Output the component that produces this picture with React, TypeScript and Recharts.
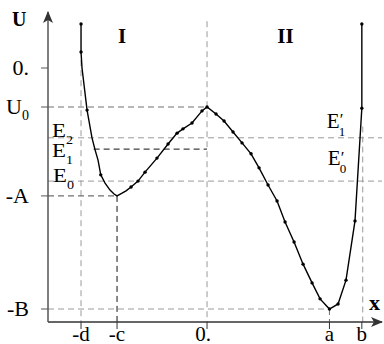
import React from "react";
import {
  ComposedChart,
  XAxis,
  YAxis,
  Line,
  Scatter,
  ReferenceLine,
  ReferenceDot,
} from "recharts";

// axis ranges (x in units of c, y in units of |U0|)
const xMin = -1.767;
const xMax = 1.944;
const yMin = -6.513;
const yMax = 1.436;

const xTicks = [-1.4, -1.0, 0, 1.36, 1.72];
const xTickLabels = ["-d", "-c", "0.", "a", "b"];
const yTicks = [-6.18, -3.28, -1.0, 0];
const yTickLabels = ["-B", "-A", "U_0", "0."];

const U0 = -1.0;
const A = -3.28;
const B = -6.18;
const E0 = -2.9;
const E1 = -2.08;
const E2 = -1.79;
const E1left = -1.26;

// points carrying a marker in the picture
const sampled = [
  { x: -1.4, y: 1.13 },
  { x: -1.4, y: 0.41 },
  { x: -1.333, y: -1.08 },
  { x: -1.181, y: -2.74 },
  { x: -0.844, y: -3.05 },
  { x: -0.767, y: -2.9 },
  { x: -0.689, y: -2.67 },
  { x: -0.556, y: -2.31 },
  { x: -0.433, y: -1.95 },
  { x: -0.333, y: -1.67 },
  { x: -0.267, y: -1.56 },
  { x: -0.167, y: -1.41 },
  { x: -0.056, y: -1.1 },
  { x: 0, y: -1.0 },
  { x: 0.1, y: -1.18 },
  { x: 0.189, y: -1.36 },
  { x: 0.289, y: -1.64 },
  { x: 0.389, y: -1.92 },
  { x: 0.489, y: -2.2 },
  { x: 0.578, y: -2.56 },
  { x: 0.678, y: -3.0 },
  { x: 0.778, y: -3.41 },
  { x: 0.867, y: -3.95 },
  { x: 0.967, y: -4.46 },
  { x: 1.067, y: -5.03 },
  { x: 1.167, y: -5.51 },
  { x: 1.256, y: -5.92 },
  { x: 1.36, y: -6.18 },
  { x: 1.456, y: -6.05 },
  { x: 1.544, y: -5.44 },
  { x: 1.644, y: -3.92 },
  { x: 1.72, y: -1.03 },
  { x: 1.72, y: 1.13 },
];

// extra points
const traced = [
  { x: -1.389, y: 0 },
  { x: -1.278, y: -1.79 },
  { x: -1.244, y: -2.1 },
  { x: -1.211, y: -2.36 },
  { x: -1.133, y: -2.95 },
  { x: -1.078, y: -3.13 },
  { x: -1.033, y: -3.23 },
  { x: -1.0, y: -3.28 },
  { x: -0.944, y: -3.21 },
  { x: -0.9, y: -3.15 },
];

const curve = [...sampled, ...traced].sort((p, q) => p.x - q.x);

const serif = "'Liberation Serif', 'DejaVu Serif', 'Times New Roman', serif";
const light = "#9a9a9a";
const mid = "#707070";
const dark = "#111";

const XTick = ({ x, y, payload }: any) => {
  const i = xTicks.indexOf(payload.value);
  const label = xTickLabels[i];
  return (
    <text
      x={x + (label === "0." ? -4 : 0)}
      y={y + 10}
      textAnchor="middle"
      style={{ fontFamily: serif, fontSize: 21 }}
      fill="#000"
    >
      {label}
    </text>
  );
};

const YTick = ({ x, y, payload }: any) => {
  const i = yTicks.indexOf(payload.value);
  const [main, sub] = (yTickLabels[i] || "").split("_");
  return (
    <text
      x={x - 10}
      y={y + 7}
      textAnchor="end"
      style={{ fontFamily: serif, fontSize: 22 }}
      fill="#000"
    >
      {main}
      {sub && (
        <tspan dy={6} style={{ fontSize: 14 }}>
          {sub}
        </tspan>
      )}
    </text>
  );
};

// symbol with optional prime and subscript, as one text element
const Sym = ({ x, y, main, sub, prime, size = 19, sx = 1, bold = false, anchor = "start" }: any) => (
  <g transform={`translate(${x},${y}) scale(${sx},1)`}>
    <text
      x={0}
      y={0}
      textAnchor={anchor}
      fill="#000"
      style={{ fontFamily: serif, fontSize: size, fontWeight: bold ? 700 : 400 }}
    >
      {main}
      {prime && (
        <tspan dy={-size * 0.12} style={{ fontSize: size * 0.8 }}>
          ′
        </tspan>
      )}
      {sub && (
        <tspan
          dx={prime ? -size * 0.22 : 0}
          dy={prime ? size * 0.5 : size * 0.38}
          style={{ fontSize: size * 0.62 }}
        >
          {sub}
        </tspan>
      )}
    </text>
  </g>
);

const tag =
  (dx: number, dy: number, props: any) =>
  ({ viewBox }: any) =>
    <Sym x={viewBox.x + dx} y={viewBox.y + dy} {...props} />;

const dash = "6 4";

const PotentialChart: React.FC = () => {
  return (
    <div style={{ position: "absolute", left: 0, top: 0 }}>
      <ComposedChart
        width={384}
        height={344}
        margin={{ top: 12, right: 2, bottom: 0, left: 0 }}
      >
        <defs>
          <marker
            id="arrow"
            viewBox="0 0 12 10"
            refX={11}
            refY={5}
            markerWidth={12}
            markerHeight={10}
            markerUnits="userSpaceOnUse"
            orient="auto-start-reverse"
          >
            <path d="M0,0 L12,5 L0,10 L3,5 z" fill="#333" />
          </marker>
        </defs>
        <XAxis
          type="number"
          dataKey="x"
          domain={[xMin, xMax]}
          ticks={xTicks}
          interval={0}
          allowDataOverflow
          height={22}
          tickSize={7}
          tickLine={{ stroke: "#333" }}
          axisLine={{ stroke: "#333", strokeWidth: 1.5, markerEnd: "url(#arrow)" }}
          tick={(p: any) => <XTick {...p} />}
        />
        <YAxis
          type="number"
          dataKey="y"
          domain={[yMin, yMax]}
          ticks={yTicks}
          interval={0}
          allowDataOverflow
          width={48}
          tickSize={7}
          tickLine={{ stroke: "#555" }}
          axisLine={{ stroke: "#555", strokeWidth: 1.5, markerStart: "url(#arrow)" }}
          tick={(p: any) => <YTick {...p} />}
        />

        {/* vertical guides */}
        <ReferenceLine segment={[{ x: -1.4, y: 0.2 }, { x: -1.4, y: yMin }]} stroke={light} strokeDasharray={dash} ifOverflow="visible" />
        <ReferenceLine segment={[{ x: -1.0, y: A }, { x: -1.0, y: yMin }]} stroke={dark} strokeDasharray={dash} ifOverflow="visible" />
        <ReferenceLine segment={[{ x: 0, y: 1.2 }, { x: 0, y: yMin }]} stroke={light} strokeDasharray={dash} ifOverflow="visible" />
        <ReferenceLine segment={[{ x: 1.36, y: B }, { x: 1.36, y: yMin }]} stroke={mid} strokeDasharray={dash} ifOverflow="visible" />
        <ReferenceLine segment={[{ x: 1.73, y: -1.5 }, { x: 1.73, y: yMin }]} stroke={light} strokeDasharray={dash} ifOverflow="visible" />

        {/* horizontal guides */}
        <ReferenceLine segment={[{ x: xMin, y: U0 }, { x: 0, y: U0 }]} stroke={mid} strokeDasharray={dash} ifOverflow="visible" />
        <ReferenceLine segment={[{ x: xMin, y: E2 }, { x: xMax, y: E2 }]} stroke={light} strokeDasharray={dash} ifOverflow="visible" />
        <ReferenceLine segment={[{ x: E1left, y: E1 }, { x: 0, y: E1 }]} stroke={dark} strokeDasharray={dash} ifOverflow="visible" />
        <ReferenceLine segment={[{ x: xMin, y: E0 }, { x: xMax, y: E0 }]} stroke={light} strokeDasharray={dash} ifOverflow="visible" />
        <ReferenceLine segment={[{ x: xMin, y: A }, { x: -1.0, y: A }]} stroke={mid} strokeDasharray={dash} strokeWidth={1.3} ifOverflow="visible" />
        <ReferenceLine segment={[{ x: xMin, y: B }, { x: 1.36, y: B }]} stroke={light} strokeDasharray={dash} ifOverflow="visible" />

        <Line
          data={curve}
          dataKey="y"
          type="linear"
          stroke="#000"
          strokeWidth={1.4}
          dot={false}
          activeDot={false}
          isAnimationActive={false}
        />
        <Scatter
          data={sampled}
          dataKey="y"
          isAnimationActive={false}
          shape={(p: any) => <circle cx={p.cx} cy={p.cy} r={1.7} fill="#000" />}
        />

        {/* text annotations */}
        <ReferenceDot x={xMin} y={E2} r={0} ifOverflow="visible" label={{ content: tag(4, -1, { main: "E", sub: "2", sx: 1.2 }) }} />
        <ReferenceDot x={xMin} y={E1} r={0} ifOverflow="visible" label={{ content: tag(4, 8, { main: "E", sub: "1", sx: 1.2 }) }} />
        <ReferenceDot x={xMin} y={E0} r={0} ifOverflow="visible" label={{ content: tag(5, 1, { main: "E", sub: "0", sx: 1.2 }) }} />
        <ReferenceDot x={1.72} y={E2} r={0} ifOverflow="visible" label={{ content: tag(-35, -10, { main: "E", sub: "1", prime: true, size: 21 }) }} />
        <ReferenceDot x={1.72} y={E0} r={0} ifOverflow="visible" label={{ content: tag(-34, -16, { main: "E", sub: "0", prime: true, size: 21 }) }} />
        <ReferenceDot x={-1.0} y={yMax} r={0} ifOverflow="visible" label={{ content: tag(5, 31, { main: "I", bold: true, size: 21, anchor: "middle" }) }} />
        <ReferenceDot x={1.36} y={yMax} r={0} ifOverflow="visible" label={{ content: tag(-44, 31, { main: "II", bold: true, size: 21, anchor: "middle" }) }} />
        <ReferenceDot x={xMin} y={yMax} r={0} ifOverflow="visible" label={{ content: tag(-36, 14, { main: "U", bold: true, size: 20 }) }} />
        <ReferenceDot x={xMax} y={yMin} r={0} ifOverflow="visible" label={{ content: tag(-13, -12, { main: "x", bold: true, size: 22 }) }} />
      </ComposedChart>
    </div>
  );
};

export default function App() {
  return <PotentialChart />;
}
